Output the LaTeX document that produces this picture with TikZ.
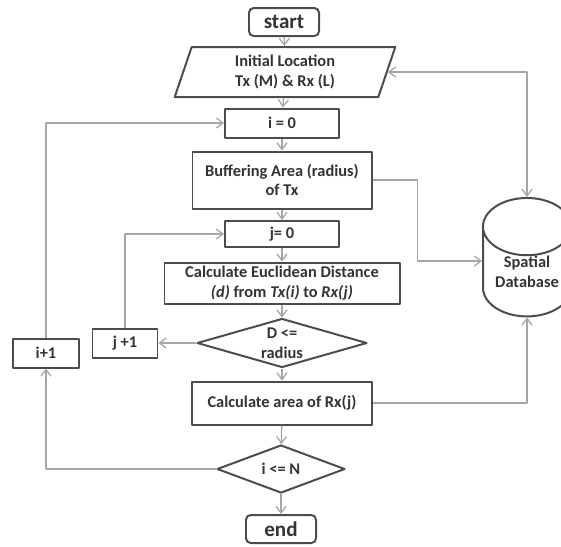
\documentclass[tikz,border=0pt]{standalone}
\usepackage{fontspec}
\setmainfont{Carlito}
\usetikzlibrary{positioning,shapes.geometric,arrows.meta}
\tikzset{
  >={Straight Barb[length=2mm,width=3mm]},
  conn/.style={line width=1.1pt, draw=black!35, ->},
}

\begin{document}
\begin{tikzpicture}[x=0.03cm, y=-0.03cm, line join=round,
  base/.style={draw=black!70, line width=1.7pt, text=black!80, align=center,
    inner sep=0pt, font=\fontsize{14}{17}\selectfont\bfseries},
  box/.style={base, rectangle},
  term/.style={base, rectangle, rounded corners=4pt, minimum width=2.1cm,
    minimum height=0.84cm, font=\fontsize{18}{20}\selectfont\bfseries},
  io/.style={base, trapezium, trapezium left angle=75, trapezium right angle=105,
    trapezium stretches=true},
  decision/.style={base, diamond, aspect=3.4},
  store/.style={base, cylinder, shape border rotate=90, aspect=0.9}
]
\useasboundingbox (0,0) rectangle (561,546);

%--- Main column ---
\node[term] (start) at (284,22) {start};
\node[io, minimum width=6.63cm, minimum height=1.5cm] (init) at (285,72)
  {Initial Location\\Tx (M) \& Rx (L)};
\node[box, minimum width=3.42cm, minimum height=0.87cm] (i0) at (282,123) {i = 0};
\node[box, minimum width=5.37cm, minimum height=1.71cm] (buff) at (282,180)
  {Buffering Area (radius)\\of Tx};
\node[box, minimum width=3.42cm, minimum height=0.78cm] (j0) at (282,234) {j= 0};
\node[box, minimum width=7.05cm, minimum height=1.23cm] (eucl) at (282,283)
  {Calculate Euclidean Distance\\\textit{(d)} from \textit{Tx(i)} to \textit{Rx(j)}};
\node[decision, minimum width=5.1cm, minimum height=1.47cm] (dist) at (282,343)
  {D <=\\radius};
\node[box, minimum width=5.4cm, minimum height=1.29cm] (area) at (282,403)
  {Calculate area of Rx(j)};
\node[decision, minimum width=3.84cm, minimum height=1.44cm] (iN) at (281,469)
  {i <= N};
\node[term] (end) at (281,529) {end};

%--- Counters on the left ---
\node[box, minimum width=1.95cm, minimum height=0.87cm] (jnext) at (125,343) {j +1};
\node[box, minimum width=1.98cm, minimum height=0.87cm] (inext) at (46,353) {i+1};

%--- Database on the right ---
\node[store, minimum width=2.64cm, minimum height=3.2cm] (db) at (527,272)
  {Spatial\\Database};

%--- Flow ---
\draw[conn] (start) -- (init);
\draw[conn] (init) -- (i0);
\draw[conn] (i0) -- (buff);
\draw[conn] (buff) -- (j0);
\draw[conn] (j0) -- (eucl);
\draw[conn] (eucl) -- (dist);
\draw[conn] (dist) -- (area);
\draw[conn] (area) -- (iN);
\draw[conn] (iN) -- (end);

% loops
\draw[conn] (dist.west) -- (jnext.east);
\draw[conn] (jnext.north) |- (j0.west);
\draw[conn] (iN.west) -| (inext.south);
\draw[conn] (inext.north) |- (i0.west);

% links to the database
\draw[conn, <->] (init.east) -| (db.north);
\draw[conn] (buff.east) -- ++(45,0) |- ([yshift=0.33cm]db.west);
\draw[conn] (area.east) -| (db.south);

\end{tikzpicture}
\end{document}
